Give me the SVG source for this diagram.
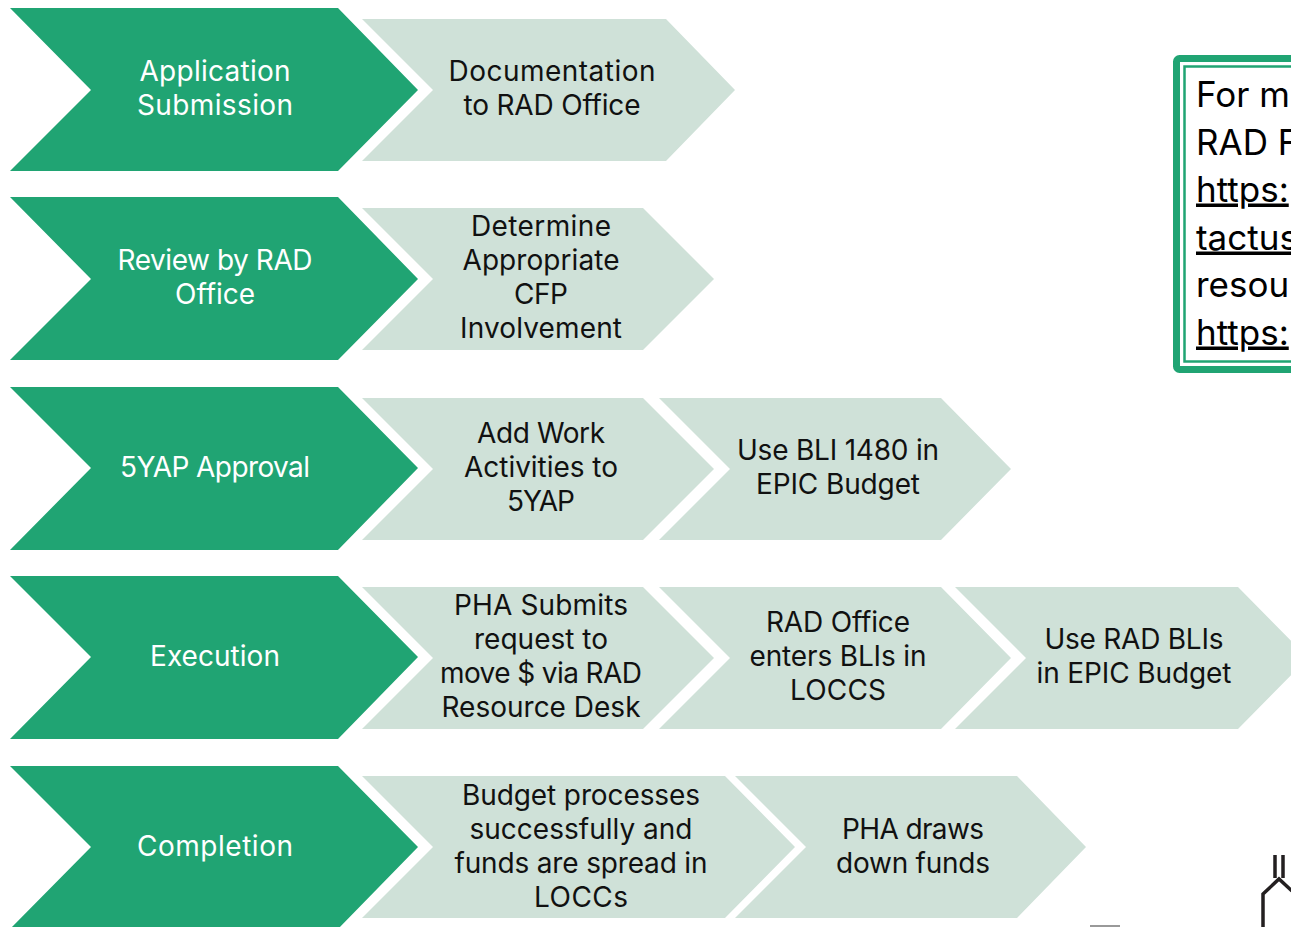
<svg xmlns="http://www.w3.org/2000/svg" width="1291" height="927" viewBox="0 0 1291 927">
<style>
text{font-family:"Inter","Noto Sans","Liberation Sans",sans-serif;text-anchor:middle}
.g{fill:#20a473}.l{fill:#cfe1d8}
.gt{fill:#fff;font-size:28px}.lt{fill:#111;font-size:28px}
.b{fill:#000;font-size:35px;text-anchor:start}
.u{text-decoration:underline;text-decoration-thickness:1.500px;text-decoration-color:#444}
</style>
<rect width="1291" height="927" fill="#fff"/>
<g id="row1-detail1"><polygon class="l" points="362,19 666,19 735,90 666,161 362,161 433,90"/><text class="lt" x="552" y="81" textLength="207">Documentation</text><text class="lt" x="552" y="115" textLength="177">to RAD Office</text></g>
<g id="row1-main"><polygon class="g" points="10,8 338,8 418,90 338,171 10,171 91,90"/><text class="gt" x="215" y="81" textLength="151">Application</text><text class="gt" x="215" y="115" textLength="156">Submission</text></g>
<g id="row2-detail1"><polygon class="l" points="362,208 643,208 714,279 643,350 362,350 433,279"/><text class="lt" x="541" y="236" textLength="140">Determine</text><text class="lt" x="541" y="270" textLength="157">Appropriate</text><text class="lt" x="541" y="304" textLength="54">CFP</text><text class="lt" x="541" y="338" textLength="162">Involvement</text></g>
<g id="row2-main"><polygon class="g" points="10,197 338,197 418,279 338,360 10,360 91,279"/><text class="gt" x="215" y="270" textLength="195">Review by RAD</text><text class="gt" x="215" y="304" textLength="80">Office</text></g>
<g id="row3-detail2"><polygon class="l" points="659,398 941,398 1011,469 941,540 659,540 730,469"/><text class="lt" x="838" y="460" textLength="202">Use BLI 1480 in</text><text class="lt" x="838" y="494" textLength="164">EPIC Budget</text></g>
<g id="row3-detail1"><polygon class="l" points="362,398 643,398 714,469 643,540 362,540 433,469"/><text class="lt" x="541" y="443" textLength="128">Add Work</text><text class="lt" x="541" y="477" textLength="154">Activities to</text><text class="lt" x="541" y="511" textLength="68">5YAP</text></g>
<g id="row3-main"><polygon class="g" points="10,387 338,387 418,468 338,550 10,550 91,468"/><text class="gt" x="215" y="477" textLength="190">5YAP Approval</text></g>
<g id="row4-detail3"><polygon class="l" points="955,587 1238,587 1308,658 1238,729 955,729 1026,658"/><text class="lt" x="1134" y="649" textLength="179">Use RAD BLIs</text><text class="lt" x="1134" y="683" textLength="195">in EPIC Budget</text></g>
<g id="row4-detail2"><polygon class="l" points="659,587 941,587 1011,658 941,729 659,729 730,658"/><text class="lt" x="838" y="632" textLength="144">RAD Office</text><text class="lt" x="838" y="666" textLength="177">enters BLIs in</text><text class="lt" x="838" y="700" textLength="96">LOCCS</text></g>
<g id="row4-detail1"><polygon class="l" points="362,587 643,587 714,658 643,729 362,729 433,658"/><text class="lt" x="541" y="615" textLength="174">PHA Submits</text><text class="lt" x="541" y="649" textLength="134">request to</text><text class="lt" x="541" y="683" textLength="202">move $ via RAD</text><text class="lt" x="541" y="717" textLength="199">Resource Desk</text></g>
<g id="row4-main"><polygon class="g" points="10,576 338,576 418,657 338,739 10,739 91,657"/><text class="gt" x="215" y="666" textLength="130">Execution</text></g>
<g id="row5-detail2"><polygon class="l" points="735,776 1017,776 1086,847 1017,918 735,918 806,847"/><text class="lt" x="913" y="839" textLength="142">PHA draws</text><text class="lt" x="913" y="873" textLength="154">down funds</text></g>
<g id="row5-detail1"><polygon class="l" points="362,776 725,776 795,847 725,918 362,918 433,847"/><text class="lt" x="581" y="805" textLength="238">Budget processes</text><text class="lt" x="581" y="839" textLength="223">successfully and</text><text class="lt" x="581" y="873" textLength="253">funds are spread in</text><text class="lt" x="581" y="907" textLength="94">LOCCs</text></g>
<g id="row5-main"><polygon class="g" points="10,766 338,766 418,847 338,929 10,929 91,847"/><text class="gt" x="215" y="856" textLength="156">Completion</text></g>
<g id="info-box">
<rect x="1176.500" y="58.500" width="160" height="311" rx="3" fill="#fff" stroke="#20a473" stroke-width="7"/>
<rect x="1184.500" y="66.500" width="150" height="295" fill="none" stroke="#20a473" stroke-width="2.500"/>
<text class="b" x="1196" y="106.500">For m</text>
<text class="b" x="1196" y="154.500">RAD F</text>
<text class="b u" x="1196" y="201.500">https:</text>
<text class="b u" x="1196" y="249.500">tactus</text>
<text class="b" x="1196" y="297">resou</text>
<text class="b u" x="1196" y="344.500">https:</text>
</g>
<g id="icon" fill="none" stroke="#231f20" stroke-width="3.500">
<path d="M1263,927V894L1279,879L1292,891"/><path d="M1275,855V878M1283,855V878"/>
</g>
<path id="edge-mark" d="M1090,926H1120" stroke="#999" stroke-width="2"/>
</svg>
